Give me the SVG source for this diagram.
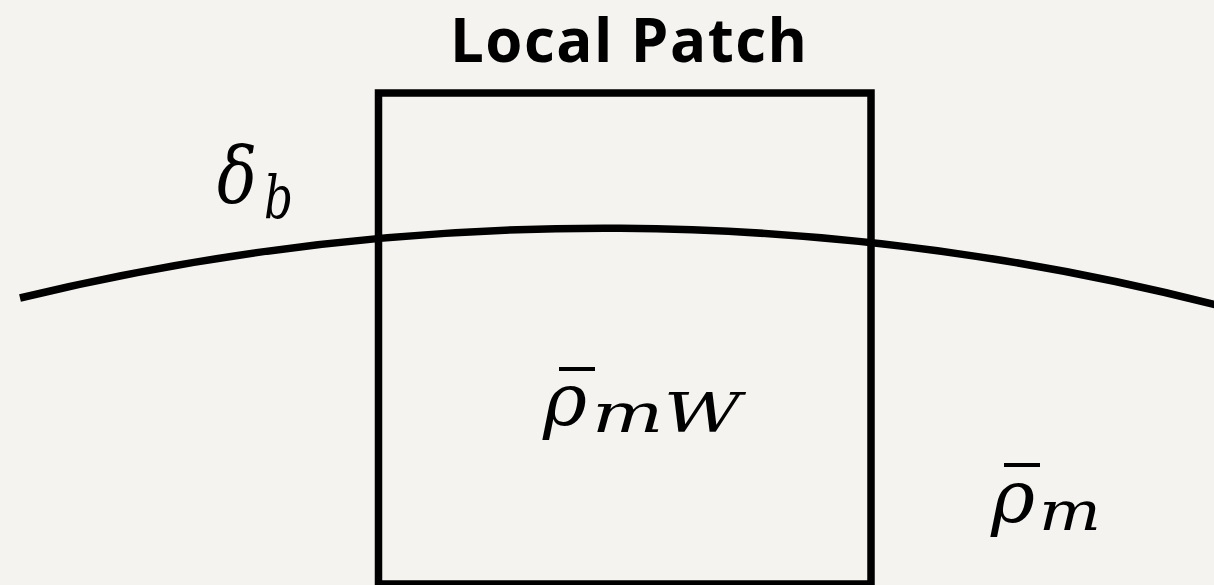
<svg xmlns="http://www.w3.org/2000/svg" width="1214" height="585" viewBox="0 0 1214 585">
  <style>
    .title { font-family: "Open Sans", Lato, "DejaVu Sans", sans-serif; font-weight: 700; font-size: 60px; fill: #000; }
    .math { font-family: "DejaVu Serif", "Liberation Serif", serif; font-style: italic; fill: #000; }
    .big { font-size: 72px; }
    .sub { font-size: 54px; }
    .stroke { fill: none; stroke: #000; stroke-width: 7.5; }
    .bar { stroke: #000; stroke-width: 4; }
  </style>
  <rect x="0" y="0" width="1214" height="585" fill="#f4f3ef"/>

  <!-- boundary curve -->
  <g id="connectors">
    <path class="stroke" d="M 20 298 A 2479 2479 0 0 1 1220 306"/>
  </g>

  <!-- local patch window -->
  <g id="local-patch">
    <rect class="stroke" x="378.5" y="93" width="492.5" height="491"/>
    <text class="title" x="450" y="62" textLength="357" lengthAdjust="spacing">Local Patch</text>
  </g>

  <g id="delta-b">
    <text class="math" x="217" y="203" style="font-size:78px" textLength="40" lengthAdjust="spacingAndGlyphs">δ</text>
    <text class="math" x="264" y="218" style="font-size:60px" textLength="29" lengthAdjust="spacingAndGlyphs">b</text>
  </g>

  <g id="rho-mW">
    <line class="bar" x1="559" y1="369" x2="595" y2="369"/>
    <text class="math big" x="543" y="425" textLength="44" lengthAdjust="spacingAndGlyphs">ρ</text>
    <text class="math sub" x="592" y="432" textLength="149" lengthAdjust="spacingAndGlyphs">mW</text>
  </g>

  <g id="rho-m">
    <line class="bar" x1="1004" y1="465" x2="1040" y2="465"/>
    <text class="math big" x="991" y="522" textLength="44" lengthAdjust="spacingAndGlyphs">ρ</text>
    <text class="math sub" x="1039" y="530" textLength="62" lengthAdjust="spacingAndGlyphs">m</text>
  </g>
</svg>
